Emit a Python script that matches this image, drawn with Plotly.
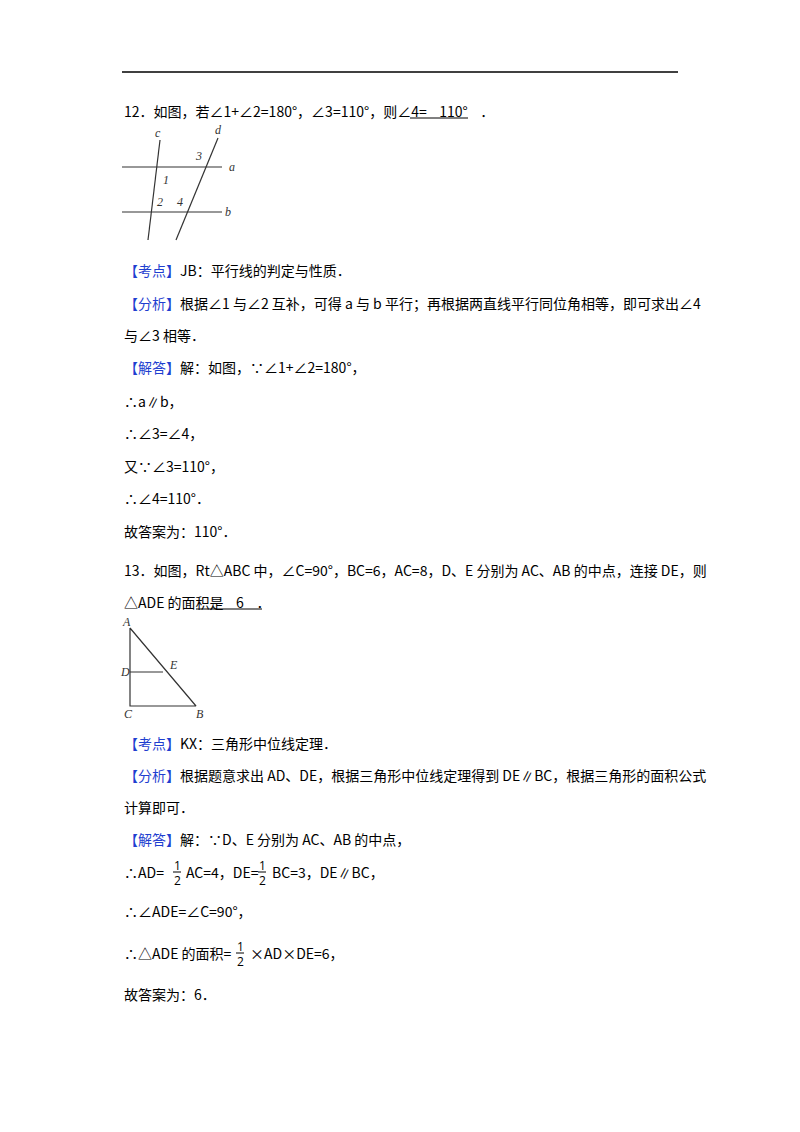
import plotly.graph_objects as go

# Figure 1 geometry (page pixel coords)
fig1_lines = {"a": ([122, 222], [167, 167]), "b": ([122, 222], [212, 212]),
              "c": ([160, 148], [140, 240]), "d": ([218, 176], [138, 240])}
fig1_labels = [("c", 158, 133), ("d", 218, 130), ("a", 232, 167), ("b", 228, 212),
               ("3", 198, 156), ("1", 166, 180), ("2", 160, 202), ("4", 180, 202)]
# Figure 2 geometry
tri_x = [130, 130, 196, 130]
tri_y = [628, 706, 706, 628]
de_x = [130, 163]
de_y = [672, 672]
fig2_labels = [("A", 126, 622), ("D", 125, 672), ("E", 173, 665), ("C", 128, 714), ("B", 200, 714)]

BLUE = "#1f3fd0"
text_lines = [
    (122, 111, "12．如图，若∠1+∠2=180°，∠3=110°，则∠4=    110°    ．"),
    (122, 270, f"<span style='color:{BLUE}'>【考点】</span>JB：平行线的判定与性质．"),
    (122, 303, f"<span style='color:{BLUE}'>【分析】</span>根据∠1 与∠2 互补，可得 a 与 b 平行；再根据两直线平行同位角相等，即可求出∠4"),
    (122, 335, "与∠3 相等．"),
    (122, 367, f"<span style='color:{BLUE}'>【解答】</span>解：如图，∵∠1+∠2=180°，"),
    (122, 401, "∴a∥b，"),
    (122, 433, "∴∠3=∠4，"),
    (122, 466, "又∵∠3=110°，"),
    (122, 498, "∴∠4=110°．"),
    (122, 531, "故答案为：110°．"),
    (122, 570, "13．如图，Rt△ABC 中，∠C=90°，BC=6，AC=8，D、E 分别为 AC、AB 的中点，连接 DE，则"),
    (122, 602, "△ADE 的面积是    6    ．"),
    (122, 743, f"<span style='color:{BLUE}'>【考点】</span>KX：三角形中位线定理．"),
    (122, 775, f"<span style='color:{BLUE}'>【分析】</span>根据题意求出 AD、DE，根据三角形中位线定理得到 DE∥BC，根据三角形的面积公式"),
    (122, 807, "计算即可．"),
    (122, 839, f"<span style='color:{BLUE}'>【解答】</span>解：∵D、E 分别为 AC、AB 的中点，"),
    (122, 872, "∴AD="), (184, 872, "AC=4，DE="), (270, 872, "BC=3，DE∥BC，"),
    (122, 911, "∴∠ADE=∠C=90°，"),
    (122, 953, "∴△ADE 的面积="), (248, 953, "×AD×DE=6，"),
    (122, 994, "故答案为：6．"),
]
fractions = [(177, 872), (262, 872), (240, 953)]
underlines = [([410, 468], [118, 118]), ([196, 262], [609, 609])]

fig = go.Figure()
for k, (xs, ys) in fig1_lines.items():
    fig.add_trace(go.Scatter(x=xs, y=ys, mode="lines", line=dict(color="#333", width=1.2), hoverinfo="skip"))
fig.add_trace(go.Scatter(x=tri_x, y=tri_y, mode="lines", line=dict(color="#333", width=1.2)))
fig.add_trace(go.Scatter(x=de_x, y=de_y, mode="lines", line=dict(color="#333", width=1.2)))
fig.add_trace(go.Scatter(x=[122, 678], y=[72, 72], mode="lines", line=dict(color="black", width=1.5)))
for xs, ys in underlines:
    fig.add_trace(go.Scatter(x=xs, y=ys, mode="lines", line=dict(color="black", width=1)))
for fx, fy in fractions:
    fig.add_trace(go.Scatter(x=[fx - 4, fx + 4], y=[fy, fy], mode="lines", line=dict(color="black", width=1)))
    fig.add_annotation(x=fx, y=fy - 7, text="1", showarrow=False, font=dict(size=12, color="black"))
    fig.add_annotation(x=fx, y=fy + 8, text="2", showarrow=False, font=dict(size=12, color="black"))

for t, x, y in fig1_labels + fig2_labels:
    fig.add_annotation(x=x, y=y, text=f"<i>{t}</i>", showarrow=False,
                       font=dict(size=12, color="#333", family="Liberation Serif"))
for x, y, t in text_lines:
    fig.add_annotation(x=x, y=y, text=t, showarrow=False, xanchor="left",
                       font=dict(size=14, color="black", family="Noto Sans CJK SC"))

# body has an 8px page margin; offset the ranges so page pixels line up
fig.update_layout(width=800, height=1132, margin=dict(l=0, r=0, t=0, b=0),
                  showlegend=False, plot_bgcolor="white", paper_bgcolor="white",
                  xaxis=dict(range=[8, 808], visible=False),
                  yaxis=dict(range=[1140, 8], visible=False))
fig.write_html("out.html")
